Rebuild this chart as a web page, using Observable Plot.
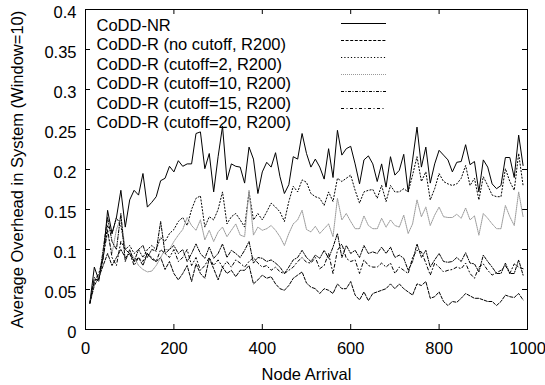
<!DOCTYPE html>
<html><head><meta charset="utf-8">
<script src="https://cdn.jsdelivr.net/npm/d3@7"></script>
<script src="https://cdn.jsdelivr.net/npm/@observablehq/plot@0.6"></script>
<style>body{margin:0;background:#fff}#chart svg{display:block}</style>
</head><body><div id="chart"></div>
<script>
const nodeArrival = [10,20,30,40,50,60,70,80,90,100,110,120,130,140,150,160,170,180,190,200,210,220,230,240,250,260,270,280,290,300,310,320,330,340,350,360,370,380,390,400,410,420,430,440,450,460,470,480,490,500,510,520,530,540,550,560,570,580,590,600,610,620,630,640,650,660,670,680,690,700,710,720,730,740,750,760,770,780,790,800,810,820,830,840,850,860,870,880,890,900,910,920,930,940,950,960,970,980,990];

const coddNR = [0.034,0.078,0.062,0.09,0.149,0.12,0.14,0.174,0.128,0.162,0.174,0.168,0.195,0.153,0.159,0.166,0.186,0.189,0.204,0.197,0.211,0.204,0.207,0.207,0.245,0.247,0.201,0.22,0.172,0.216,0.254,0.187,0.207,0.204,0.203,0.183,0.228,0.213,0.17,0.197,0.209,0.203,0.221,0.191,0.17,0.181,0.216,0.213,0.245,0.22,0.203,0.213,0.203,0.188,0.226,0.19,0.249,0.218,0.226,0.229,0.207,0.182,0.212,0.217,0.207,0.185,0.207,0.178,0.216,0.193,0.199,0.219,0.172,0.212,0.253,0.203,0.228,0.183,0.207,0.224,0.218,0.212,0.197,0.209,0.21,0.231,0.206,0.21,0.172,0.212,0.203,0.182,0.176,0.18,0.215,0.215,0.19,0.243,0.205];

const noCutoff = [0.033,0.055,0.065,0.08,0.095,0.08,0.09,0.1,0.09,0.095,0.085,0.09,0.08,0.095,0.088,0.085,0.09,0.075,0.085,0.07,0.062,0.07,0.08,0.06,0.082,0.07,0.064,0.089,0.076,0.062,0.078,0.07,0.074,0.066,0.074,0.074,0.08,0.057,0.062,0.068,0.064,0.066,0.057,0.051,0.049,0.055,0.064,0.068,0.072,0.058,0.053,0.051,0.045,0.051,0.049,0.045,0.057,0.051,0.051,0.06,0.043,0.037,0.047,0.036,0.045,0.047,0.049,0.051,0.057,0.051,0.057,0.051,0.047,0.043,0.057,0.055,0.06,0.039,0.041,0.047,0.035,0.03,0.035,0.034,0.039,0.045,0.042,0.039,0.039,0.037,0.035,0.035,0.03,0.035,0.043,0.041,0.04,0.045,0.037];

const cutoff2 = [0.033,0.06,0.065,0.09,0.13,0.12,0.14,0.13,0.1,0.105,0.095,0.1,0.09,0.1,0.105,0.1,0.115,0.11,0.12,0.125,0.135,0.14,0.13,0.15,0.164,0.167,0.128,0.141,0.137,0.15,0.172,0.132,0.141,0.145,0.137,0.128,0.172,0.137,0.145,0.137,0.147,0.158,0.153,0.147,0.135,0.16,0.179,0.172,0.187,0.184,0.17,0.166,0.164,0.155,0.172,0.16,0.189,0.185,0.189,0.193,0.174,0.158,0.172,0.174,0.175,0.164,0.18,0.16,0.18,0.172,0.172,0.176,0.172,0.193,0.216,0.185,0.197,0.162,0.176,0.195,0.185,0.182,0.18,0.182,0.189,0.205,0.18,0.189,0.162,0.191,0.18,0.168,0.166,0.166,0.201,0.185,0.174,0.22,0.18];

const cutoff10 = [0.033,0.06,0.065,0.095,0.12,0.095,0.125,0.14,0.1,0.095,0.09,0.08,0.075,0.072,0.073,0.08,0.09,0.1,0.1,0.11,0.118,0.125,0.14,0.13,0.124,0.137,0.112,0.124,0.11,0.122,0.128,0.116,0.124,0.132,0.118,0.116,0.174,0.118,0.128,0.124,0.126,0.13,0.124,0.116,0.105,0.12,0.132,0.137,0.149,0.125,0.122,0.129,0.12,0.126,0.132,0.116,0.164,0.137,0.145,0.135,0.126,0.126,0.142,0.13,0.126,0.126,0.139,0.128,0.137,0.13,0.128,0.143,0.12,0.132,0.162,0.141,0.153,0.13,0.143,0.153,0.141,0.14,0.14,0.144,0.139,0.152,0.137,0.142,0.118,0.145,0.139,0.132,0.126,0.126,0.155,0.141,0.13,0.172,0.141];

const cutoff15 = [0.033,0.065,0.06,0.1,0.14,0.11,0.1,0.145,0.085,0.1,0.085,0.1,0.105,0.09,0.1,0.098,0.135,0.095,0.1,0.105,0.095,0.1,0.085,0.095,0.107,0.095,0.089,0.103,0.089,0.095,0.107,0.09,0.099,0.095,0.09,0.099,0.11,0.083,0.09,0.089,0.085,0.087,0.083,0.078,0.07,0.078,0.087,0.09,0.099,0.09,0.085,0.093,0.089,0.099,0.089,0.103,0.12,0.09,0.105,0.095,0.099,0.09,0.105,0.095,0.097,0.095,0.103,0.095,0.103,0.09,0.093,0.089,0.074,0.085,0.107,0.09,0.099,0.078,0.087,0.095,0.085,0.084,0.085,0.09,0.085,0.096,0.083,0.082,0.072,0.093,0.085,0.078,0.07,0.07,0.083,0.07,0.07,0.087,0.068];

const cutoff20 = [0.033,0.06,0.07,0.09,0.125,0.09,0.08,0.11,0.1,0.095,0.08,0.09,0.085,0.095,0.09,0.085,0.1,0.095,0.09,0.1,0.085,0.09,0.1,0.08,0.09,0.074,0.08,0.09,0.08,0.087,0.078,0.085,0.078,0.087,0.083,0.078,0.085,0.09,0.083,0.078,0.08,0.074,0.078,0.072,0.07,0.074,0.078,0.085,0.09,0.084,0.083,0.09,0.076,0.08,0.095,0.07,0.099,0.107,0.089,0.085,0.087,0.07,0.087,0.08,0.078,0.078,0.083,0.078,0.083,0.07,0.078,0.074,0.07,0.09,0.099,0.097,0.083,0.068,0.083,0.078,0.072,0.074,0.075,0.078,0.076,0.083,0.07,0.064,0.078,0.082,0.074,0.068,0.071,0.074,0.08,0.07,0.082,0.078,0.076];

const seriesNames = ["CoDD-NR","CoDD-R (no cutoff, R200)","CoDD-R (cutoff=2, R200)","CoDD-R (cutoff=10, R200)","CoDD-R (cutoff=15, R200)","CoDD-R (cutoff=20, R200)"];
const seriesValues = [coddNR, noCutoff, cutoff2, cutoff10, cutoff15, cutoff20];

const xTicks = [0,200,400,600,800,1000];
const xTickLabels = ["0","200","400","600","800","1000"];
const yTicks = [0,0.05,0.1,0.15,0.2,0.25,0.3,0.35,0.4];
const yTickLabels = ["0","0.05","0.1","0.15","0.2","0.25","0.3","0.35","0.4"];
const xTitle = "Node Arrival";
const yTitle = "Average Overhead in System (Window=10)";

const styles = [
  {stroke: "#000", dash: null},
  {stroke: "#000", dash: "3,1.6"},
  {stroke: "#000", dash: "1.2,2.1"},
  {stroke: "#999", dash: "1,1"},
  {stroke: "#000", dash: "3,1.5,1,1.5"},
  {stroke: "#000", dash: "3,2.5,1,2.5"}
];

const W = 545, H = 385;
const mT = 9, mR = 18, mB = 56, mL = 85;
const pw = W - mL - mR, ph = H - mT - mB;
const font = "'Liberation Sans', Arial, Helvetica, sans-serif";
const fs = 16.5;

const rows = [];
seriesValues.forEach((vals, si) => vals.forEach((v, i) => rows.push({x: nodeArrival[i], y: v, s: si})));

const lineMarks = seriesValues.map((_, si) => Plot.line(rows.filter(r => r.s === si), {
  x: "x", y: "y", stroke: styles[si].stroke, strokeWidth: 1,
  strokeDasharray: styles[si].dash || undefined
}));

const legendText = seriesNames.map((name, i) => Plot.text([name], {
  frameAnchor: "top-left", dx: 11, dy: 16 + i * 19.5, text: d => d,
  fontSize: fs, fill: "#000", textAnchor: "start", lineAnchor: "middle"
}));

const chart = Plot.plot({
  width: W, height: H,
  marginTop: mT, marginRight: mR, marginBottom: mB, marginLeft: mL,
  style: {fontFamily: font, fontSize: fs + "px", background: "#fff", color: "#000"},
  x: {domain: [0, 1000], axis: null},
  y: {domain: [0, 0.4], axis: null},
  marks: [
    Plot.tickX(xTicks, {x: d => d, insetTop: ph - 5, stroke: "#000"}),
    Plot.tickX(xTicks, {x: d => d, insetBottom: ph - 5, stroke: "#000"}),
    Plot.tickY(yTicks, {y: d => d, insetRight: pw - 5, stroke: "#000"}),
    Plot.tickY(yTicks, {y: d => d, insetLeft: pw - 5, stroke: "#000"}),
    Plot.text(xTicks, {x: d => d, frameAnchor: "bottom", dy: 19, lineAnchor: "middle", text: (d, i) => xTickLabels[i], fontSize: fs, fill: "#000", textAnchor: "middle"}),
    Plot.text(yTicks, {y: d => d, frameAnchor: "left", dx: -9, dy: 3, lineAnchor: "middle", textAnchor: "end", text: (d, i) => yTickLabels[i], fontSize: fs, fill: "#000"}),
    Plot.text([xTitle], {frameAnchor: "bottom", dy: 45, lineAnchor: "middle", text: d => d, fontSize: fs, fill: "#000", textAnchor: "middle"}),
    Plot.text([yTitle], {frameAnchor: "left", dx: -68, rotate: -90, lineAnchor: "middle", text: d => d, fontSize: fs, fill: "#000", textAnchor: "middle"}),
    ...legendText,
    ...lineMarks,
    Plot.frame({stroke: "#000", strokeWidth: 1})
  ]
});

const svg = d3.select(chart);
const lg = svg.append("g");
styles.forEach((st, i) => {
  const ly = Math.round(mT + 14.3 + i * 17) + 0.5;
  lg.append("line").attr("x1", 341).attr("x2", 386).attr("y1", ly).attr("y2", ly)
    .attr("stroke", st.stroke).attr("stroke-width", 1)
    .attr("stroke-dasharray", st.dash);
});
document.getElementById("chart").appendChild(chart);
</script>
</body></html>
